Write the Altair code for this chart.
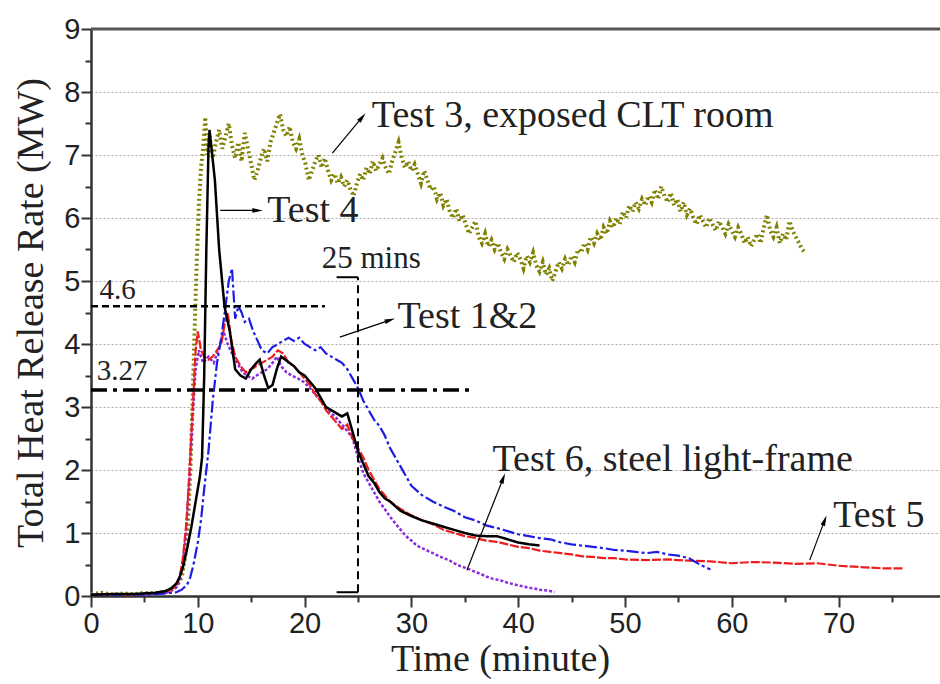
import math
import altair as alt
import pandas as pd

# ---------------- data ----------------
TEST3 = [(0,0.03),(1,0.05),(2,0.02),(3,0.04),(4,0.03),(5,0.05),(6,0.04),(7,0.07),(7.5,0.1),(8,0.15),(8.5,0.3),(8.8,0.6),
 (9.1,1.2),(9.3,2.0),(9.5,3.0),(9.7,4.2),(9.9,5.3),(10.1,6.2),(10.3,6.8),(10.5,7.1),(10.7,7.6),(10.9,7.0),(11.1,7.3),
 (11.4,6.95),(11.7,7.2),(12,7.4),(12.3,7.1),(12.6,7.3),(12.9,7.5),(13.2,7.15),(13.5,6.95),(13.8,7.2),(14.1,6.9),(14.4,7.35),
 (14.7,7.1),(15,6.85),(15.3,6.6),(15.6,6.75),(15.9,6.95),(16.2,7.1),(16.5,6.9),(16.8,7.2),(17.1,7.35),(17.4,7.5),(17.7,7.65),
 (18,7.4),(18.3,7.3),(18.6,7.45),(18.9,7.2),(19.2,7.1),(19.5,7.25),(19.8,7.0),(20.1,6.85),(20.4,6.6),(20.7,6.75),(21,6.9),
 (21.3,7.0),(21.6,6.8),(21.9,6.95),(22.2,6.75),(22.5,6.6),(22.8,6.7),(23.1,6.55),(23.4,6.65),(23.7,6.5),(24,6.6),(24.3,6.45),
 (24.6,6.35),(24.9,6.55),(25.2,6.7),(25.5,6.6),(25.8,6.8),(26.1,6.7),(26.4,6.9),(26.7,6.75),(27,6.85),(27.3,6.95),(27.6,6.8),
 (27.9,6.7),(28.2,6.9),(28.5,7.05),(28.8,7.2),(29.1,6.95),(29.4,6.8),(29.7,6.9),(30,6.75),(30.3,6.85),(30.6,6.7),(30.9,6.55),
 (31.2,6.75),(31.5,6.6),(31.8,6.45),(32.1,6.5),(32.4,6.3),(32.7,6.4),(33,6.2),(33.3,6.3),(33.6,6.1),(33.9,6.0),(34.2,6.15),
 (34.5,5.95),(34.8,6.05),(35.1,5.9),(35.4,5.75),(35.7,5.85),(36,5.95),(36.3,5.7),(36.6,5.6),(36.9,5.75),(37.2,5.55),(37.5,5.65),
 (37.8,5.5),(38.1,5.6),(38.4,5.45),(38.7,5.35),(39,5.5),(39.3,5.4),(39.6,5.3),(39.9,5.45),(40.2,5.35),(40.5,5.2),(40.8,5.4),
 (41.1,5.3),(41.4,5.45),(41.7,5.25),(42,5.15),(42.3,5.3),(42.6,5.1),(42.9,5.2),(43.2,5.0),(43.5,5.15),(43.8,5.3),(44.1,5.2),
 (44.4,5.35),(44.7,5.25),(45,5.4),(45.3,5.3),(45.6,5.5),(45.9,5.45),(46.2,5.6),(46.5,5.5),(46.8,5.7),(47.1,5.6),(47.4,5.75),
 (47.7,5.65),(48,5.85),(48.3,5.75),(48.6,5.95),(48.9,5.85),(49.2,6.0),(49.5,5.9),(49.8,6.1),(50.1,6.0),(50.4,6.2),(50.7,6.1),
 (51,6.25),(51.3,6.15),(51.6,6.3),(51.9,6.2),(52.2,6.35),(52.5,6.25),(52.8,6.45),(53.1,6.3),(53.4,6.5),(53.7,6.35),(54,6.25),
 (54.3,6.4),(54.6,6.2),(54.9,6.3),(55.2,6.1),(55.5,6.25),(55.8,6.05),(56.1,6.15),(56.4,6.0),(56.7,5.9),(57,6.05),(57.3,5.95),
 (57.6,5.85),(57.9,6.0),(58.2,5.9),(58.5,5.8),(58.8,5.95),(59.1,5.85),(59.4,5.75),(59.7,5.9),(60,5.8),(60.3,5.7),(60.6,5.85),
 (60.9,5.75),(61.2,5.6),(61.5,5.7),(61.8,5.55),(62.1,5.65),(62.4,5.75),(62.7,5.6),(63,5.85),(63.3,6.05),(63.6,5.8),(63.9,5.7),
 (64.2,5.85),(64.5,5.6),(64.8,5.75),(65.1,5.65),(65.4,5.95),(65.7,5.8),(66,5.7),(66.3,5.6),(66.6,5.5),(66.9,5.45)]

TEST4 = [(0,0.02),(2,0.03),(4,0.03),(6,0.05),(7,0.08),(7.5,0.12),(8,0.2),(8.3,0.3),(8.6,0.45),(9,0.75),(9.4,1.1),(9.8,1.5),
 (10.2,1.9),(10.4,2.2),(10.6,3.5),(10.8,5.5),(11.0,7.1),(11.1,7.4),(11.6,6.6),(12.0,5.5),(12.5,4.6),(13.0,4.2),(13.5,3.6),
 (14.0,3.5),(14.5,3.45),(15.0,3.6),(15.5,3.7),(15.8,3.75),(16.2,3.5),(16.6,3.3),(17.0,3.35),(17.4,3.6),(17.8,3.8),(18.2,3.75),
 (18.6,3.7),(19.0,3.65),(19.5,3.55),(20,3.5),(20.5,3.4),(21,3.3),(21.5,3.15),(22,3.0),(22.5,2.95),(23,2.9),(23.5,2.85),
 (24,2.9),(24.5,2.6),(25,2.3),(25.5,2.1),(26,1.9),(26.5,1.8),(27,1.65),(27.5,1.55),(28,1.5),(29,1.35),(30,1.27),(31,1.2),
 (32,1.15),(33,1.1),(34,1.05),(35,1.0),(36,0.96),(37,0.95),(38,0.95),(39,0.9),(40,0.85),(41,0.82),(42,0.8)]

TEST12 = [(0,0.02),(2,0.02),(4,0.02),(6,0.03),(7,0.04),(8,0.06),(8.5,0.1),(9,0.18),(9.3,0.3),(9.6,0.5),(10,0.85),(10.3,1.2),
 (10.6,1.7),(11,2.3),(11.4,3.1),(11.8,3.7),(12.2,4.1),(12.6,4.6),(12.9,5.0),(13.2,5.2),(13.5,4.4),(13.8,4.6),(14.1,4.5),
 (14.4,4.35),(14.8,4.4),(15.2,4.2),(15.6,4.05),(16,3.9),(16.5,3.85),(17,3.95),(17.5,4.0),(18,4.05),(18.5,4.1),(19,4.05),
 (19.5,4.1),(20,4.0),(20.5,3.95),(21,3.9),(21.5,3.95),(22,3.85),(22.5,3.8),(23,3.75),(23.5,3.7),(24,3.6),(24.5,3.45),
 (25,3.3),(25.5,3.1),(26,2.95),(26.5,2.8),(27,2.7),(27.5,2.55),(28,2.35),(28.5,2.2),(29,2.05),(29.5,1.9),(30,1.75),(31,1.6),
 (32,1.5),(33,1.42),(34,1.35),(35,1.25),(36,1.2),(37,1.12),(38,1.08),(39,1.03),(40,0.98),(41,0.95),(42,0.92),(43,0.9),
 (44,0.85),(45,0.82),(46,0.8),(47,0.78),(48,0.76),(49,0.73),(50,0.72),(51,0.7),(52,0.68),(53,0.7),(54,0.66),(55,0.64),
 (56,0.6),(57,0.5),(58,0.42)]

TEST5 = [(0,0.02),(2,0.03),(4,0.02),(6,0.04),(7,0.06),(7.5,0.1),(8,0.16),(8.3,0.3),(8.6,0.6),(8.9,1.1),(9.2,1.9),(9.5,2.9),
 (9.8,3.9),(10.0,4.2),(10.3,3.9),(10.6,3.8),(11,3.75),(11.4,3.8),(11.8,3.9),(12.2,4.0),(12.5,4.3),(12.8,4.5),(13.1,4.1),
 (13.5,3.8),(14,3.65),(14.5,3.55),(15,3.6),(15.5,3.65),(16,3.7),(16.5,3.75),(17,3.8),(17.5,3.9),(18,3.85),(18.5,3.7),
 (19,3.65),(19.5,3.55),(20,3.45),(20.5,3.35),(21,3.2),(21.5,3.1),(22,2.95),(22.5,2.85),(23,2.75),(23.5,2.65),(24,2.72),
 (24.5,2.5),(25,2.35),(25.5,2.2),(26,2.0),(26.5,1.85),(27,1.7),(27.5,1.6),(28,1.5),(29,1.38),(30,1.28),(31,1.2),(32,1.14),
 (33,1.05),(34,1.0),(35,0.95),(36,0.92),(37,0.88),(38,0.86),(39,0.82),(40,0.78),(41,0.76),(42,0.72),(43,0.7),(44,0.68),
 (45,0.66),(46,0.63),(47,0.62),(48,0.6),(49,0.6),(50,0.58),(52,0.57),(54,0.58),(56,0.56),(58,0.55),(60,0.52),(62,0.54),
 (64,0.53),(66,0.51),(68,0.52),(70,0.48),(72,0.46),(74,0.44),(76,0.44)]

TEST6 = [(0,0.02),(2,0.03),(4,0.02),(6,0.03),(7,0.05),(7.5,0.08),(8,0.14),(8.3,0.25),(8.6,0.5),(8.9,1.0),(9.2,1.8),(9.5,2.8),
 (9.8,3.6),(10.1,3.9),(10.5,3.7),(11,3.8),(11.5,3.7),(12,3.95),(12.4,4.2),(12.8,4.0),(13.2,3.85),(13.7,3.7),(14.2,3.55),
 (14.6,3.5),(15.1,3.45),(15.5,3.5),(16,3.55),(16.5,3.6),(17,3.7),(17.4,3.8),(17.8,3.65),(18.3,3.55),(18.8,3.5),(19.4,3.45),
 (19.9,3.4),(20.5,3.3),(21,3.2),(21.5,3.1),(22,3.0),(22.5,2.9),(23,2.82),(23.5,2.72),(24,2.62),(24.5,2.5),(25,2.2),
 (25.5,1.95),(26,1.8),(26.5,1.65),(27,1.5),(27.5,1.38),(28,1.26),(28.5,1.15),(29,1.05),(29.5,0.95),(30,0.88),(30.5,0.8),
 (31,0.76),(31.5,0.72),(32,0.68),(32.5,0.64),(33,0.6),(33.5,0.57),(34,0.52),(34.5,0.48),(35,0.45),(35.5,0.42),(36,0.38),
 (36.5,0.35),(37,0.31),(37.5,0.28),(38,0.26),(38.5,0.24),(39,0.21),(39.5,0.19),(40,0.17),(40.5,0.15),(41,0.13),(41.5,0.12),
 (42,0.1),(42.5,0.09),(43,0.08),(43.4,0.06)]

# reference levels
LEVEL_HIGH = 4.6
LEVEL_LOW = 3.27
MARK_TIME = 25

# annotation labels: text, t, v
LABELS = [("Test 3, exposed CLT room", 26.3, 7.44),
          ("Test 4", 16.5, 5.94),
          ("Test 1&2", 28.7, 4.25),
          ("Test 6, steel light-frame", 37.6, 1.98),
          ("Test 5", 69.5, 1.09)]
SMALL_LABELS = [("25 mins", 21.6, 5.2, 31), ("4.6", 0.8, 4.72, 29), ("3.27", 0.55, 3.43, 29)]

# arrows: tail (t, v) -> head (t, v)
ARROWS = [(22.6, 7.03, 25.4, 7.6),
          (12.1, 6.12, 15.6, 6.12),
          (23.3, 4.11, 28.0, 4.38),
          (35.2, 0.41, 38.6, 1.87),
          (67.3, 0.57, 68.7, 1.2)]

# ---------------- chart ----------------
W, H = 849, 567
XMAX, YMAX = 79.5, 9
PX_T = W / XMAX
PX_V = H / YMAX

SERIF = "Liberation Serif"
SANS = "Liberation Sans"
AX = "#333333"

xscale = alt.Scale(domain=[0, XMAX], nice=False, zero=False)
yscale = alt.Scale(domain=[0, YMAX], nice=False)

xaxis = alt.Axis(
    values=list(range(0, 80, 5)),
    labelExpr="datum.value % 10 === 0 ? format(datum.value, 'd') : ''",
    tickSize={"condition": {"test": "datum.value % 10 === 0", "value": 11}, "value": 6},
    grid=False, domainColor=AX, domainWidth=2.5, tickColor=AX, tickWidth=2,
    labelFont=SANS, labelFontSize=29, labelColor="#222", labelBaseline="alphabetic",
    labelPadding=25, labelFlush=False, labelOverlap=False,
    title="Time (minute)", titleFont=SERIF, titleFontSize=38, titleFontWeight="normal",
    titleColor="#222", titleBaseline="alphabetic", titleY=74, titleX=409,
)
yaxis = alt.Axis(
    values=[i * 0.5 for i in range(19)],
    labelExpr="datum.value % 1 === 0 ? format(datum.value, 'd') : ''",
    tickSize={"condition": {"test": "datum.value % 1 === 0", "value": 10}, "value": 6},
    grid=True, gridColor="#aaaaaa", gridDash=[2, 2], gridWidth=1,
    gridOpacity={"condition": {"test": "datum.value % 1 !== 0 || datum.value === 0 || datum.value === 9", "value": 0}, "value": 1},
    domainColor=AX, domainWidth=2.5, tickColor=AX, tickWidth=2,
    labelFont=SANS, labelFontSize=29, labelColor="#222", labelPadding=1, labelFlush=False, labelOverlap=False,
    title="Total Heat Release Rate (MW)", titleFont=SERIF, titleFontSize=38, titleFontWeight="normal",
    titleColor="#222", titleBaseline="alphabetic", titleX=-49,
)

X = alt.X("t:Q", scale=xscale, axis=xaxis)
Y = alt.Y("v:Q", scale=yscale, axis=yaxis)


def series(data, color, width, dash=None):
    df = pd.DataFrame(data, columns=["t", "v"])
    kw = dict(color=color, strokeWidth=width, clip=True)
    if dash:
        kw["strokeDash"] = dash
    return alt.Chart(df).mark_line(**kw).encode(x=X, y=Y, order="t:Q")


def segs(rows, width, dash=None, color="black"):
    df = pd.DataFrame(rows, columns=["t", "v", "t2", "v2"])
    kw = dict(color=color, strokeWidth=width)
    if dash:
        kw["strokeDash"] = dash
    return alt.Chart(df).mark_rule(**kw).encode(x=X, y=Y, x2="t2:Q", y2="v2:Q")


layers = []
# top frame line
layers.append(segs([(0, YMAX, XMAX, YMAX)], 3, color="#555555"))

# data series
layers.append(series(TEST3, "#808000", 4, [2, 3]))
layers.append(series(TEST6, "#8a2be2", 2.5, [3, 2]))
layers.append(series(TEST5, "#ee1c1c", 2.2, [9, 2]))
layers.append(series(TEST12, "#1c1ce6", 2.2, [12, 3, 3, 3]))
layers.append(series(TEST4, "black", 2.5))

# reference lines
layers.append(segs([(0, LEVEL_HIGH, 21.9, LEVEL_HIGH)], 2.5, [7, 4]))
layers.append(segs([(0, LEVEL_LOW, 35.5, LEVEL_LOW)], 3.5, [16, 6, 4, 6]))
layers.append(segs([(MARK_TIME, 0.06, MARK_TIME, 5.06)], 2, [8, 5]))
layers.append(segs([(23.0, 5.06, MARK_TIME, 5.06), (23.0, 0.06, MARK_TIME, 0.06)], 2))

# arrows
layers.append(segs([a for a in ARROWS], 1.2))
heads = []
for t1, v1, t2, v2 in ARROWS:
    dx = (t2 - t1) * PX_T
    dy = (v2 - v1) * PX_V
    ang = math.degrees(math.atan2(dx, dy)) % 360
    heads.append((t2, v2, ang))
hdf = pd.DataFrame(heads, columns=["t", "v", "ang"])
layers.append(alt.Chart(hdf).mark_point(
    shape="M0,-1L0.45,1L-0.45,1Z", filled=True, color="black", opacity=1, size=110
).encode(x=X, y=Y, angle=alt.Angle("ang:Q", scale=None)))

# text labels
ldf = pd.DataFrame(LABELS, columns=["label", "t", "v"])
layers.append(alt.Chart(ldf).mark_text(
    align="left", baseline="alphabetic", font=SERIF, fontSize=38, color="#222"
).encode(x=X, y=Y, text="label:N"))
for txt, t, v, fs in SMALL_LABELS:
    sdf = pd.DataFrame([(txt, t, v)], columns=["label", "t", "v"])
    layers.append(alt.Chart(sdf).mark_text(
        align="left", baseline="alphabetic", font=SERIF, fontSize=fs, color="#222"
    ).encode(x=X, y=Y, text="label:N"))

chart = alt.layer(*layers).properties(
    width=W, height=H,
    autosize=alt.AutoSizeParams(type="none"),
    padding={"left": 91, "top": 29, "right": 0, "bottom": 88},
    background="white",
).configure_view(stroke=None)

chart.save("out.html", embed_options={"renderer": "svg", "actions": False})
